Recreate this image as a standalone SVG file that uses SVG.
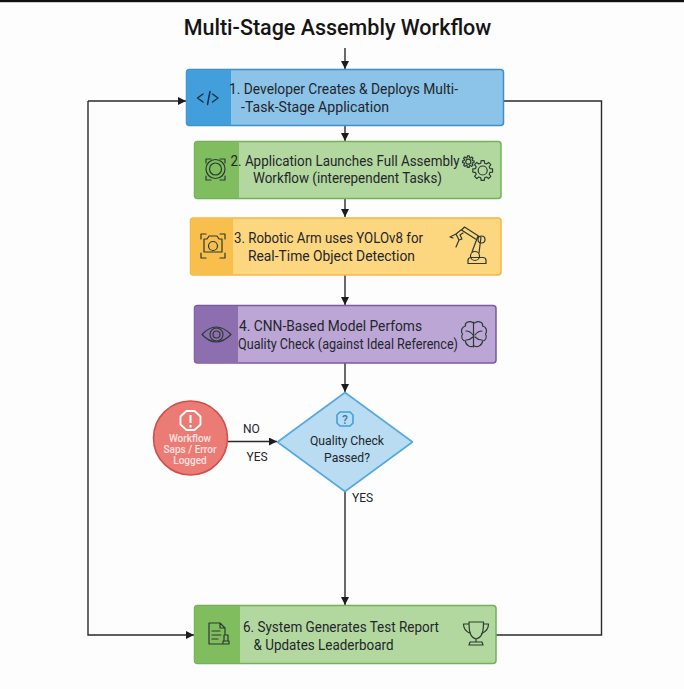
<svg xmlns="http://www.w3.org/2000/svg" width="684" height="689" viewBox="0 0 684 689">
<style>
text{font-family:Roboto,"Liberation Sans",sans-serif;fill:#23262b}
.t{font-size:14px}
.s{font-size:12px}
.i{fill:none;stroke:#2b3a33;stroke-width:1.2;stroke-linecap:round;stroke-linejoin:round}
.c{fill:none;stroke:#2a2a2a;stroke-width:1.4}
.w{font-size:10px;font-weight:500;fill:#fbe3e0}
.d{font-size:12.2px}
</style>
<defs>
<marker id="a" markerUnits="userSpaceOnUse" markerWidth="9" markerHeight="8" refX="8" refY="4" orient="auto"><path d="M0 0L8 4L0 8Z" fill="#1c1c1c"/></marker>
<path id="g" vector-effect="non-scaling-stroke" d="M9.88 -1.56L9.88 1.56L7.24 1.94L6.5 3.75L8.09 5.88L5.88 8.09L3.75 6.5L1.94 7.24L1.56 9.88L-1.56 9.88L-1.94 7.24L-3.75 6.5L-5.88 8.09L-8.09 5.88L-6.5 3.75L-7.24 1.94L-9.88 1.56L-9.88 -1.56L-7.24 -1.94L-6.5 -3.75L-8.09 -5.88L-5.88 -8.09L-3.75 -6.5L-1.94 -7.24L-1.56 -9.88L1.56 -9.88L1.94 -7.24L3.75 -6.5L5.88 -8.09L8.09 -5.88L6.5 -3.75L7.24 -1.94Z"/>
</defs>
<rect width="684" height="689" fill="#fdfdfd"/>
<rect width="684" height="2.2" fill="#111"/>
<text x="337.500" y="35" text-anchor="middle" style="font-size:21.500px;font-weight:500;fill:#151515">Multi-Stage Assembly Workflow</text>
<g id="connectors">
<path class="c" marker-end="url(#a)" d="M345 48V69"/>
<path class="c" marker-end="url(#a)" d="M345 126V141"/>
<path class="c" marker-end="url(#a)" d="M345 199V217"/>
<path class="c" marker-end="url(#a)" d="M345 275V305"/>
<path class="c" marker-end="url(#a)" d="M345 363V392"/>
<path class="c" marker-end="url(#a)" d="M345 492V605"/>
<path class="c" marker-end="url(#a)" d="M228 441.500H277"/>
<path class="c" marker-end="url(#a)" d="M88 101V635H194"/>
<path class="c" marker-end="url(#a)" d="M88 101H186"/>
<path class="c" d="M503 101H601.500V635H496"/>
<text x="243" y="433" class="s">NO</text>
<text x="246.500" y="461" class="s">YES</text>
<text x="352" y="502" class="s">YES</text>
</g>
<g id="node1">
<rect x="186.500" y="69.500" width="317" height="56" rx="3" fill="#8bc3e9" stroke="#3f8fcc" stroke-width="1.500"/>
<path d="M189.500 70H231V125H189.500a3 3 0 0 1-3-3V73a3 3 0 0 1 3-3Z" fill="#439fdb"/>
<path class="i" style="stroke:#17324a;stroke-width:1.500" d="M203 94l-5.500 4 5.500 4M210 91.500l-2.500 13M212.500 94l5.500 4-5.500 4"/>
<text x="229" y="94" class="t" textLength="229" lengthAdjust="spacingAndGlyphs">1. Developer Creates &amp; Deploys Multi-</text>
<text x="241" y="112" class="t" textLength="148" lengthAdjust="spacingAndGlyphs">-Task-Stage Application</text>
</g>
<g id="node2">
<rect x="194.500" y="141.500" width="306.500" height="57" rx="3" fill="#b3d89f" stroke="#72b255" stroke-width="1.500"/>
<path d="M197.500 142H239V198H197.500a3 3 0 0 1-3-3V145a3 3 0 0 1 3-3Z" fill="#80bd5f"/>
<g class="i"><circle cx="215.500" cy="169" r="9.500"/><circle cx="215.500" cy="169" r="6"/><path d="M206 163v-4h5M220 159h5v4M225 176v4h-5M211 180h-5v-4"/></g>
<g class="i"><use href="#g" transform="translate(482.700 170.500)"/><circle cx="482.700" cy="170.500" r="4.500"/><use href="#g" transform="translate(468.300 161.700) scale(.58)"/><circle cx="468.300" cy="161.700" r="2.500"/></g>
<text x="230.500" y="166" class="t" textLength="229" lengthAdjust="spacingAndGlyphs">2. Application Launches Full Assembly</text>
<text x="253" y="183" class="t" textLength="189" lengthAdjust="spacingAndGlyphs">Workflow (interependent Tasks)</text>
</g>
<g id="node3">
<rect x="190.500" y="218" width="310.500" height="57" rx="3" fill="#fdd77f" stroke="#f0b84a" stroke-width="1.500"/>
<path d="M193.500 218.500H233V274.500H193.500a3 3 0 0 1-3-3V221.500a3 3 0 0 1 3-3Z" fill="#f9bf4d"/>
<g class="i"><path d="M204 239h3l2-3h8l2 3h3v13h-18Z"/><circle cx="213" cy="246" r="4.500"/><path d="M201 239v-5h5M220 234h5v5M225 253v5h-5M206 258h-5v-5"/></g>
<g class="i"><path d="M468 263.500v-3a3 3 0 0 1 3-3h12a3 3 0 0 1 3 3v3ZM472 252l6-16 3 1-2 16M478.500 236l-14-9-3 3 14 9M461 230l-5 4 3 6 3-1-2-4 3-2M456 234l-6 3 3 1M459 240l-3 7"/><circle cx="475" cy="256" r="4.500"/><circle cx="481.500" cy="239.500" r="3.500"/></g>
<text x="234" y="243" class="t" textLength="189" lengthAdjust="spacingAndGlyphs">3. Robotic Arm uses YOLOv8 for</text>
<text x="248" y="261" class="t" textLength="167" lengthAdjust="spacingAndGlyphs">Real-Time Object Detection</text>
</g>
<g id="node4">
<rect x="194.500" y="305.500" width="301.500" height="57.500" rx="3" fill="#bca6d6" stroke="#7a5aa0" stroke-width="1.500"/>
<path d="M197.500 306H238V362.500H197.500a3 3 0 0 1-3-3V309a3 3 0 0 1 3-3Z" fill="#8d6fb0"/>
<g class="i"><path d="M202 334.500q14-15 29 0q-15 15-29 0Z"/><circle cx="216.500" cy="334.500" r="6.500"/><circle cx="216.500" cy="334.500" r="3.500"/></g>
<g class="i"><path d="M473.500 322v25M473.500 323c-5-3-9 0-8 3-4 1-5 5-3 8-2 3 0 7 3 7 0 4 5 7 8 5M474.500 323c5-3 9 0 8 3 4 1 5 5 3 8 2 3 0 7-3 7 0 4-5 7-8 5M466 331c2 0 5 1 7 4M482 331c-2 0-5 1-7 4M466 340c3 0 5-1 7-3M482 340c-3 0-5-1-7-3"/></g>
<text x="239" y="331" class="t" textLength="183" lengthAdjust="spacingAndGlyphs">4. CNN-Based Model Perfoms</text>
<text x="238" y="349" class="t" textLength="220" lengthAdjust="spacingAndGlyphs">Quality Check (against Ideal Reference)</text>
</g>
<g id="node5">
<path d="M345 392.500L412.500 442L345 491.500L277.500 442Z" fill="#b9dcf2" stroke="#54a9de" stroke-width="1.600" stroke-linejoin="round"/>
<path d="M340 412h10l3 3v8l-3 3h-10l-3-3v-8Z" fill="none" stroke="#439fdb" stroke-width="1.600"/>
<text x="345" y="423.500" text-anchor="middle" style="font-size:12px;font-weight:500;fill:#2d7fb8">?</text>
<text x="347" y="445" text-anchor="middle" class="d">Quality Check</text>
<text x="347" y="462" text-anchor="middle" class="d">Passed?</text>
</g>
<g id="node6">
<circle cx="190.500" cy="438" r="37" fill="#ea7b75" stroke="#cf4f4c" stroke-width="1.600"/>
<path d="M186.500 411h8l6 5.500v8l-6 5.500h-8l-6-5.500v-8Z" fill="none" stroke="#fff" stroke-width="1.800"/>
<path d="M190.500 415v8M190.500 425v2.500" fill="none" stroke="#fff" stroke-width="2"/>
<text x="190" y="442" text-anchor="middle" class="w">Workflow</text>
<text x="190" y="453" text-anchor="middle" class="w">Saps / Error</text>
<text x="190" y="464" text-anchor="middle" class="w">Logged</text>
</g>
<g id="node7">
<rect x="194.500" y="605.500" width="301.500" height="58" rx="3" fill="#b3d89f" stroke="#72b255" stroke-width="1.500"/>
<path d="M197.500 606H240V663H197.500a3 3 0 0 1-3-3V609a3 3 0 0 1 3-3Z" fill="#80bd5f"/>
<g class="i"><path d="M222 644h-13v-21h11l5 5v6M220 623v5h5M212 631h8M212 635h9M212 639h6M224 635h4v6h-4ZM223 641h6v3h-6Z"/></g>
<g class="i"><path d="M469 622h14.500c0 10-1 15-7.500 17-6-2-7-7-7-17ZM469 624h-5.500c0 6 3 8 7 9.500M483.500 624h5c0 6-3 8-7 9.500M476 639v3M470 642h12l1 3h-14Z"/></g>
<text x="243" y="632" class="t" textLength="196" lengthAdjust="spacingAndGlyphs">6. System Generates Test Report</text>
<text x="253.500" y="650" class="t" textLength="140" lengthAdjust="spacingAndGlyphs">&amp; Updates Leaderboard</text>
</g>
</svg>
